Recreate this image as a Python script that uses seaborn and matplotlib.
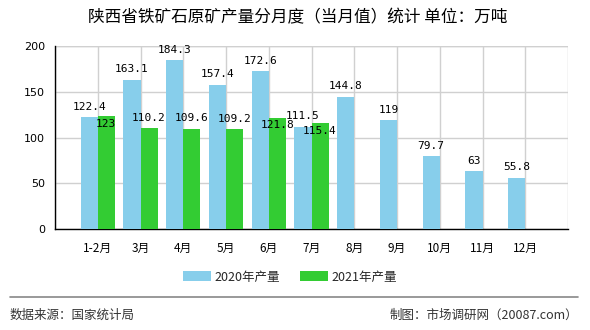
import matplotlib
matplotlib.use("Agg")
import matplotlib.pyplot as plt
import seaborn as sns
import pandas as pd
import numpy as np

months = ["1-2月", "3月", "4月", "5月", "6月", "7月", "8月", "9月", "10月", "11月", "12月"]
vals_2020 = [122.4, 163.1, 184.3, 157.4, 172.6, 111.5, 144.8, 119, 79.7, 63, 55.8]
vals_2021 = [123, 110.2, 109.6, 109.2, 121.8, 115.4, None, None, None, None, None]
series_names = ["2020年产量", "2021年产量"]
colors = ["#87CEEB", "#33CC33"]
yticks = [0, 50, 100, 150, 200]
title = "陕西省铁矿石原矿产量分月度（当月值）统计 单位：万吨"
source_left = "数据来源：国家统计局"
source_right = "制图：市场调研网（20087.com）"

sns.set_theme(style="white")
plt.rcParams['font.family'] = ['Noto Sans CJK SC', 'DejaVu Sans']

df = pd.DataFrame({
    "month": months * 2,
    "value": vals_2020 + vals_2021,
    "series": [series_names[0]] * len(months) + [series_names[1]] * len(months),
})

fig = plt.figure(figsize=(5.9, 3.3), dpi=100)
ax = fig.add_axes([55/590, 1-229/330, 513/590, 183/330])

sns.barplot(data=df, x="month", y="value", hue="series", order=months,
            hue_order=series_names, palette=colors, width=0.8, saturation=1,
            linewidth=0, edgecolor="none", gap=0,
            ax=ax, legend=True, zorder=3)

ax.set_xlim(-1, 11)
ax.set_ylim(0, 200)
ax.set_yticks(yticks)
ax.set_yticklabels([str(v) for v in yticks], fontsize=8, family=['DejaVu Sans'])
ax.set_xticks(range(-1, 12))
ax.set_xticklabels([""] + months + [""], fontsize=8.5)
ax.set_xlabel("")
ax.set_ylabel("")
ax.grid(True, color="#d0d0d0", linewidth=1, zorder=0)
ax.set_axisbelow(True)
for s in ["top", "right"]:
    ax.spines[s].set_visible(False)
for s in ["left", "bottom"]:
    ax.spines[s].set_color("black")
    ax.spines[s].set_linewidth(1)
ax.tick_params(axis="both", which="both", length=4, width=1, color="black",
               direction="out", pad=3, labelcolor="black")
ax.tick_params(axis="x", pad=5)
ax.axhline(200, color="#d0d0d0", lw=1, zorder=0)

lab_font = dict(fontsize=8, family=['DejaVu Sans Mono'], ha="center", color="black", zorder=5)
inside_2021 = {0, 4, 5}
for i, v in enumerate(vals_2020):
    ax.text(i - 0.2, v + 6, f"{v:g}", va="bottom", **lab_font)
for i, v in enumerate(vals_2021):
    if v is None:
        continue
    if i in inside_2021:
        ax.text(i + 0.2, v - 3, f"{v:g}", va="top", **lab_font)
    else:
        ax.text(i + 0.2, v + 6, f"{v:g}", va="bottom", **lab_font)

leg = ax.get_legend()
handles = leg.legend_handles
leg.remove()
for h in handles:
    h.set_edgecolor("none")
fig.legend(handles, series_names, loc="center", bbox_to_anchor=(290/590, 1-277/330),
           ncol=2, frameon=False, fontsize=9, handlelength=2.2, handleheight=0.9,
           columnspacing=1.6, handletextpad=0.3)

fig.text(298/590, 1-18/330, title, ha="center", va="center", fontsize=12, color="black")
fig.add_artist(plt.Line2D([10/590, 578/590], [1-297/330, 1-297/330], color="#888888", lw=1.2))
fig.text(10/590, 1-315/330, source_left, ha="left", va="center", fontsize=9, color="#333333")
fig.text(578/590, 1-315/330, source_right, ha="right", va="center", fontsize=9, color="#333333")

fig.savefig("out.png", dpi=100)
